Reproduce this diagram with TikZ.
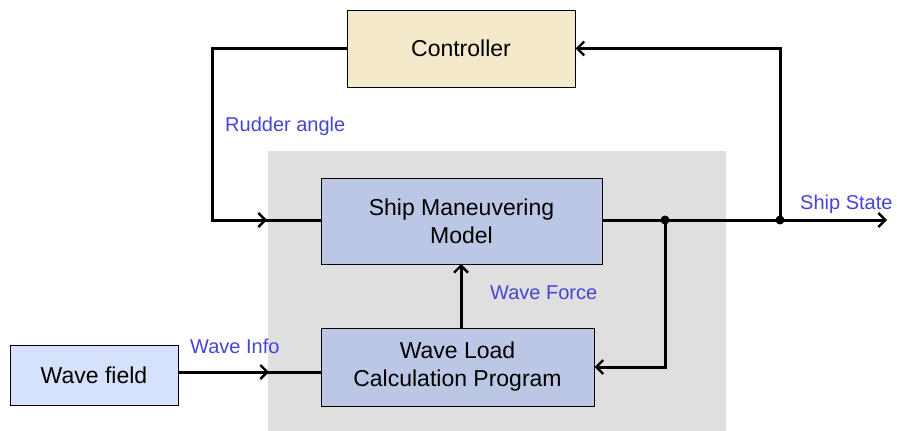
\documentclass[tikz,border=0pt]{standalone}
\usepackage{fontspec}
\setmainfont{Liberation Sans}
\usetikzlibrary{arrows.meta}
\definecolor{ctrlfill}{HTML}{F5E9CB}
\definecolor{modfill}{HTML}{BCC7E5}
\definecolor{wavefill}{HTML}{D6E1FB}
\definecolor{bgfill}{HTML}{DFDFDF}
\definecolor{lblblue}{HTML}{4545D5}
\tikzset{
  blk/.style={draw=black, line width=1pt, inner sep=0pt, font=\fontsize{23}{28}\selectfont, align=center},
  lbl/.style={text=lblblue, font=\fontsize{20}{22}\selectfont, anchor=west, inner sep=0pt},
  wire/.style={line width=3pt, line join=miter},
  tip/.style={wire, -{Straight Barb[length=7pt,width=14pt,line width=2.4pt]}},
  dot/.style={circle, fill=black, inner sep=0pt, minimum size=9pt}
}
\begin{document}
\begin{tikzpicture}[x=1pt,y=-1pt]
\useasboundingbox (0,0) rectangle (897,431);
\fill[bgfill] (268,151) rectangle (726,431);
\node[blk, fill=ctrlfill, minimum width=228pt, minimum height=77pt] (ctrl) at (461,48.5) {Controller};
\node[blk, fill=modfill, minimum width=281pt, minimum height=86pt] (ship) at (461.5,221) {Ship Maneuvering\\Model};
\node[blk, fill=modfill, minimum width=273pt, minimum height=78pt] (wl) at (457.5,367) {Wave Load\\Calculation Program};
\node[blk, fill=wavefill, minimum width=168pt, minimum height=60pt] (wf) at (94,375) {Wave field};
\coordinate (rc) at (212,48.5);
\coordinate (rb) at (212,220);
\coordinate (rtip) at (267,220);
\coordinate (j1) at (665,220);
\coordinate (j2) at (780,220);
\coordinate (out) at (887,220);
\coordinate (j1d) at (665,367);
\coordinate (j2u) at (780,48.5);
\coordinate (witip) at (269,372);
% rudder loop
\draw[wire] (ctrl.west) -- (rc) -- (rb) -- (ship.west |- rb);
\draw[tip] (rb) -- (rtip);
% ship state
\draw[tip] (ship.east |- j1) -- (out);
\draw[tip] (j2) -- (j2u) -- (ctrl.east);
\draw[tip] (j1) -- (j1d) -- (wl.east |- j1d);
\node[dot] at (j1) {};
\node[dot] at (j2) {};
% wave force
\draw[tip] (461,328) -- (461,264);
% wave info
\draw[wire] (wf.east |- witip) -- (wl.west |- witip);
\draw[tip] (wf.east |- witip) -- (witip);
% labels
\node[lbl] at (225,126) {Rudder angle};
\node[lbl] at (800,204) {Ship State};
\node[lbl] at (490,293) {Wave Force};
\node[lbl] at (190,346) {Wave Info};
\end{tikzpicture}
\end{document}
